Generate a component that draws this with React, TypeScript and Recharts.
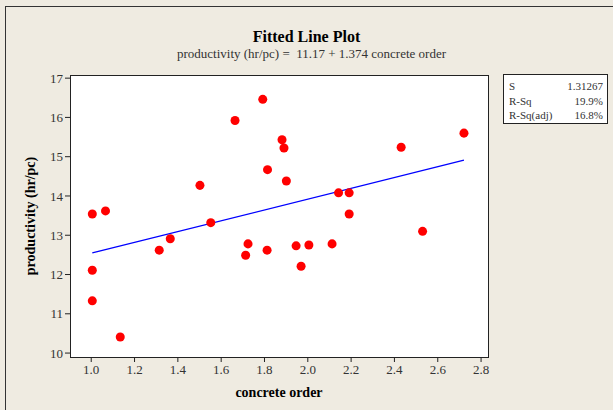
import React from "react"
import { ScatterChart, Scatter, XAxis, YAxis, CartesianGrid } from "recharts"

const concreteOrder = [
  1.005, 1.066, 1.005, 1.005, 1.134, 1.314, 1.365, 1.502, 1.552, 1.664,
  1.713, 1.724, 1.792, 1.812, 1.814, 1.881, 1.89, 1.901, 1.946, 1.969,
  2.005, 2.112, 2.142, 2.191, 2.191, 2.431, 2.53, 2.721,
]
const productivity = [
  13.54, 13.62, 12.11, 11.33, 10.41, 12.62, 12.91, 14.27, 13.32, 15.92,
  12.49, 12.78, 16.46, 12.62, 14.67, 15.43, 15.22, 14.38, 12.73, 12.21,
  12.75, 12.78, 14.08, 14.08, 13.54, 15.24, 13.1, 15.6,
]

// fitted line end points
const fitX = [1.005, 2.721]
const fitY = [12.55, 14.91]

const xTicks = [1.0, 1.2, 1.4, 1.6, 1.8, 2.0, 2.2, 2.4, 2.6, 2.8]
const yTicks = [10, 11, 12, 13, 14, 15, 16, 17]

const statLabels = ["S", "R-Sq", "R-Sq(adj)"]
const statValues = ["1.31267", "19.9%", "16.8%"]

const points = concreteOrder.map((x, i) => ({ x, y: productivity[i] }))
const fitLine = fitX.map((x, i) => ({ x, y: fitY[i] }))

const serif = "'Liberation Serif', 'Times New Roman', serif"
const tickStyle = { fontFamily: serif, fontSize: 13, fill: "#333" }

export default function App() {
  return (
    <div
      style={{
        position: "absolute",
        left: 0,
        top: 0,
        width: 613,
        height: 410,
        overflow: "hidden",
        background: "#efebe1",
        fontFamily: serif,
      }}
    >
      <div
        style={{
          position: "absolute",
          left: 5,
          top: 6,
          width: 640,
          height: 440,
          border: "1px solid #333",
        }}
      />
      <div
        style={{
          position: "absolute",
          left: 0,
          top: 28,
          width: 613,
          textAlign: "center",
          fontSize: 16,
          fontWeight: "bold",
          color: "#000",
        }}
      >
        Fitted Line Plot
      </div>
      <div
        style={{
          position: "absolute",
          left: 5,
          top: 46,
          width: 613,
          textAlign: "center",
          fontSize: 13,
          color: "#333",
          whiteSpace: "pre",
        }}
      >
        {"productivity (hr/pc) =  11.17 + 1.374 concrete order"}
      </div>

      <div style={{ position: "absolute", left: 0, top: 0 }}>
        <ScatterChart width={613} height={410} margin={{ top: 75, right: 125, bottom: 8, left: 10 }}>
          <CartesianGrid horizontal={false} vertical={false} fill="#ffffff" />
          <XAxis
            type="number"
            dataKey="x"
            domain={[0.902, 2.832]}
            allowDataOverflow
            ticks={xTicks}
            tickFormatter={(v: number) => v.toFixed(1)}
            height={45}
            axisLine={false}
            tickLine={{ stroke: "#222" }}
            tickSize={5}
            tickMargin={3}
            tick={tickStyle}
            label={{
              value: "concrete order",
              position: "insideBottom",
              offset: 5,
              style: { fontFamily: serif, fontSize: 14, fontWeight: "bold", fill: "#000" },
            }}
          />
          <YAxis
            type="number"
            dataKey="y"
            domain={[9.9, 17.08]}
            allowDataOverflow
            ticks={yTicks}
            width={60}
            axisLine={false}
            tickLine={{ stroke: "#222" }}
            tickSize={5}
            tickMargin={2}
            tick={tickStyle}
            label={{
              value: "productivity (hr/pc)",
              angle: -90,
              position: "insideLeft",
              offset: 20,
              style: { fontFamily: serif, fontSize: 14, fontWeight: "bold", fill: "#000", textAnchor: "middle" },
            }}
          />
          <Scatter
            data={fitLine}
            line={{ stroke: "#0000ff", strokeWidth: 1.3 }}
            shape={() => <g />}
            isAnimationActive={false}
          />
          <Scatter data={points} fill="#ff0000" isAnimationActive={false} />
        </ScatterChart>
      </div>

      <div
        style={{
          position: "absolute",
          left: 70,
          top: 75,
          width: 419,
          height: 283,
          boxSizing: "border-box",
          border: "1px solid #222",
          pointerEvents: "none",
        }}
      />

      <div
        style={{
          position: "absolute",
          left: 503,
          top: 74,
          width: 105,
          height: 50,
          boxSizing: "border-box",
          border: "1px solid #222",
          background: "#fff",
          padding: "4px 4px 0 5px",
          fontSize: 11,
          color: "#333",
          lineHeight: "14.5px",
        }}
      >
        {statLabels.map((s, i) => (
          <div key={s} style={{ display: "flex", justifyContent: "space-between" }}>
            <span>{s}</span>
            <span>{statValues[i]}</span>
          </div>
        ))}
      </div>
    </div>
  )
}
